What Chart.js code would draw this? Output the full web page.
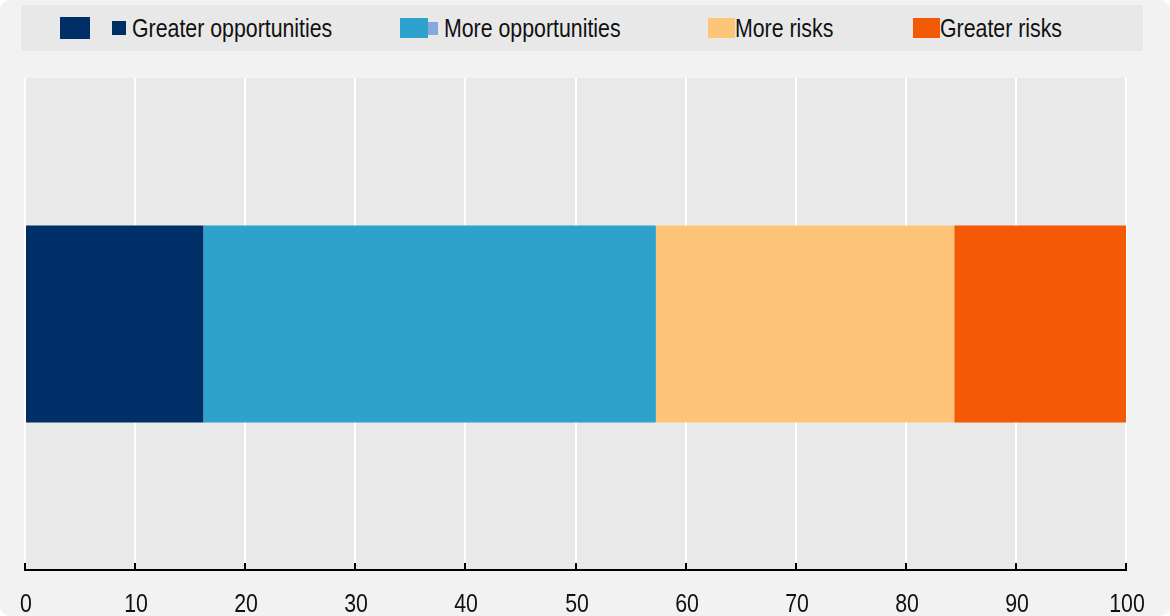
<!DOCTYPE html>
<html>
<head>
<meta charset="utf-8">
<script src="https://cdn.jsdelivr.net/npm/chart.js@4/dist/chart.umd.min.js"></script>
<style>
  html, body { margin: 0; padding: 0; background: #ffffff; }
  #wrap {
    position: relative; width: 1170px; height: 616px;
    background: #f2f2f2; border-radius: 10px; overflow: hidden;
    font-family: "Liberation Sans", Arial, sans-serif;
  }
  #legend {
    position: absolute; left: 21px; top: 5px; width: 1122px; height: 46px;
    background: #e8e8e8;
  }
  .item { position: absolute; top: 0; height: 46px; display: flex; align-items: center;
          font-size: 26px; color: #111; white-space: nowrap; }
  .sw { display: inline-block; }
  .txt { display: inline-block; transform: scaleX(0.82); transform-origin: left center; }
  canvas { position: absolute; left: 0; top: 0; }
</style>
</head>
<body>
<div id="wrap">
  <div id="legend"></div>
  <canvas id="chart" width="1170" height="616"></canvas>
</div>
<script>
// categories and series (share of respondents, %)
const categories = [''];
const seriesNames = ['Greater opportunities', 'More opportunities', 'More risks', 'Greater risks'];
const greaterOpportunities = [16.2];
const moreOpportunities = [41.1];
const moreRisks = [27.1];
const greaterRisks = [15.6];
const xTicks = [0, 10, 20, 30, 40, 50, 60, 70, 80, 90, 100];

const colors = ['#002f67', '#2ea1cd', '#fec578', '#f45905'];
const seriesValues = [greaterOpportunities, moreOpportunities, moreRisks, greaterRisks];

// condensed look: regular sans squeezed horizontally
const narrow = 0.82;

// legend built by hand (the original has a few stray swatches)
const legendItems = [
  { left: 39, text: seriesNames[0], marks: [['#002f67', 30, 22, 22], ['#002f67', 14, 14, 0]], gap: 6 },
  { left: 379, text: seriesNames[1], marks: [['#2ea1cd', 28, 20, 0], ['#85a9dc', 10, 13, 0]], gap: 6 },
  { left: 687, text: seriesNames[2], marks: [['#fec578', 27, 20, 0]], gap: 0 },
  { left: 892, text: seriesNames[3], marks: [['#f45905', 27, 20, 0]], gap: 0 }
];
const legend = document.getElementById('legend');
legendItems.forEach(function(it) {
  const div = document.createElement('div');
  div.className = 'item';
  div.style.left = it.left + 'px';
  it.marks.forEach(function(m) {
    const s = document.createElement('span');
    s.className = 'sw';
    s.style.background = m[0];
    s.style.width = m[1] + 'px';
    s.style.height = m[2] + 'px';
    s.style.marginRight = m[3] + 'px';
    div.appendChild(s);
  });
  const t = document.createElement('span');
  t.className = 'txt';
  t.textContent = it.text;
  t.style.marginLeft = it.gap + 'px';
  div.appendChild(t);
  legend.appendChild(div);
});

// grey plot background, inward tick marks and condensed tick labels
const plotDecor = {
  id: 'plotDecor',
  beforeDraw(chart) {
    const a = chart.chartArea, ctx = chart.ctx;
    ctx.save();
    ctx.fillStyle = '#e9e9e9';
    ctx.fillRect(a.left, a.top, a.right - a.left, a.bottom - a.top);
    ctx.restore();
  },
  afterDraw(chart) {
    const a = chart.chartArea, ctx = chart.ctx, x = chart.scales.x;
    ctx.save();
    ctx.strokeStyle = '#000';
    ctx.lineWidth = 2;
    ctx.fillStyle = '#111';
    ctx.font = '26px "Liberation Sans", Arial, sans-serif';
    ctx.textAlign = 'center';
    ctx.textBaseline = 'alphabetic';
    xTicks.forEach(function(v) {
      const px = Math.round(x.getPixelForValue(v));
      ctx.beginPath();
      ctx.moveTo(px, a.bottom - 7);
      ctx.lineTo(px, a.bottom);
      ctx.stroke();
      ctx.save();
      ctx.translate(px + 1, a.bottom + 42);
      ctx.scale(narrow, 1);
      ctx.fillText(String(v), 0, 0);
      ctx.restore();
    });
    ctx.restore();
  }
};

new Chart(document.getElementById('chart'), {
  type: 'bar',
  data: {
    labels: categories,
    datasets: seriesNames.map(function(name, i) {
      return {
        label: name,
        data: seriesValues[i],
        backgroundColor: colors[i],
        borderWidth: 0,
        categoryPercentage: 0.4,
        barPercentage: 1
      };
    })
  },
  options: {
    indexAxis: 'y',
    responsive: false,
    animation: false,
    layout: { padding: { left: 25, right: 44, top: 78, bottom: 0 } },
    plugins: { legend: { display: false }, tooltip: { enabled: false } },
    scales: {
      x: {
        stacked: true,
        min: 0, max: 100,
        afterBuildTicks(scale) { scale.ticks = xTicks.map(function(v) { return { value: v }; }); },
        afterFit(scale) { scale.height = 46; },
        grid: { color: '#ffffff', lineWidth: 2, drawTicks: false },
        border: { color: '#000000', width: 2 },
        ticks: { display: false }
      },
      y: {
        stacked: true,
        display: false
      }
    }
  },
  plugins: [plotDecor]
});
</script>
</body>
</html>
